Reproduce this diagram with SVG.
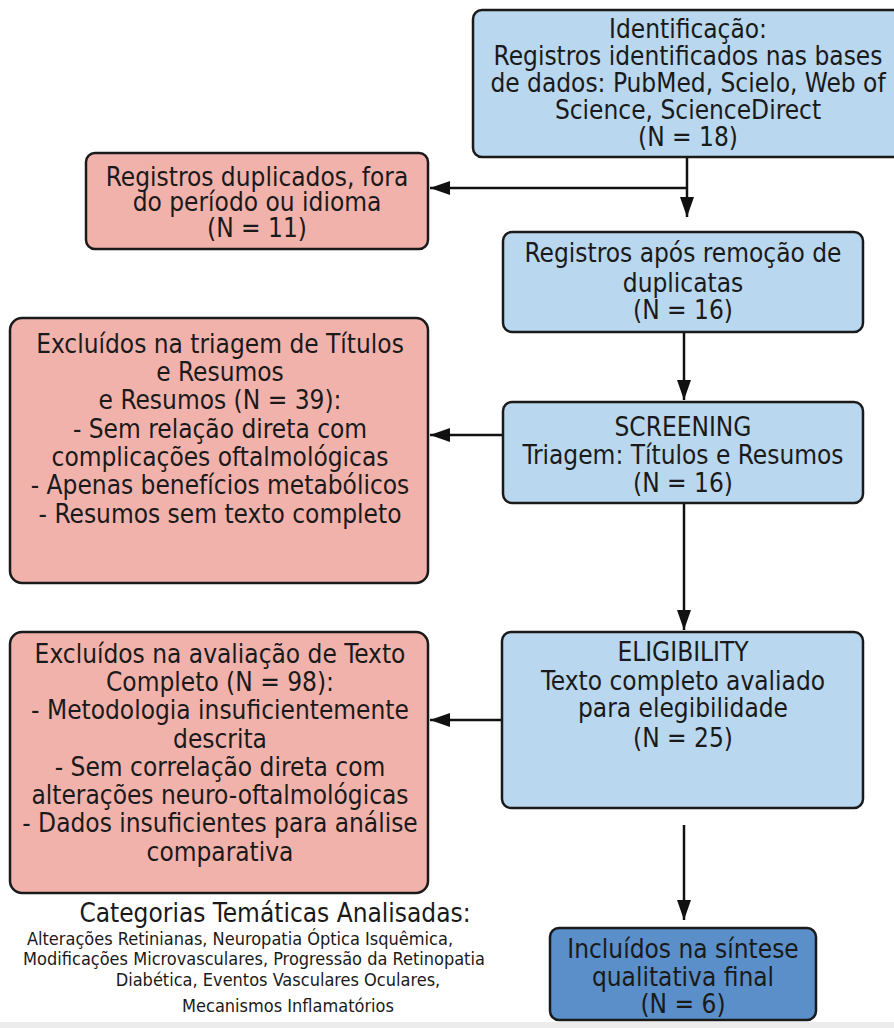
<svg xmlns="http://www.w3.org/2000/svg" width="894" height="1028" viewBox="0 0 894 1028">
<style>
text{font-family:'DejaVu Sans Condensed','DejaVu Sans',sans-serif;font-stretch:condensed;fill:#1a1a1a;text-anchor:middle;}
.t{font-size:26px;}
.s{font-size:18px;}
.blue{fill:#b9d7ee;stroke:#1a1a1a;stroke-width:2.5;}
.red{fill:#f2b2ac;stroke:#1a1a1a;stroke-width:2.5;}
.dark{fill:#5b8fc9;stroke:#1a1a1a;stroke-width:2.5;}
.c{fill:none;stroke:#111;stroke-width:2.5;}
</style>
<defs>
<marker id="ah2" viewBox="0 0 10 10" refX="10" refY="5" markerWidth="8" markerHeight="8" orient="auto" markerUnits="strokeWidth">
<path d="M0,1.5 L10,5 L0,8.5 Z" fill="#111"/>
</marker>
</defs>
<rect width="894" height="1028" fill="#ffffff"/>
<g id="connectors">
<path class="c" d="M687,157 L687,217" marker-end="url(#ah2)"/>
<path class="c" d="M687,188 L430,188" marker-end="url(#ah2)"/>
<path class="c" d="M684,332 L684,400" marker-end="url(#ah2)"/>
<path class="c" d="M503,435 L430,435" marker-end="url(#ah2)"/>
<path class="c" d="M684,503 L684,630" marker-end="url(#ah2)"/>
<path class="c" d="M502,720 L430,720" marker-end="url(#ah2)"/>
<path class="c" d="M684,825 L684,920" marker-end="url(#ah2)"/>
</g>
<g id="identificacao">
<rect class="blue" x="473" y="10" width="440" height="147" rx="9"/>
<text class="t" x="688" y="38">Identificação:</text>
<text class="t" x="688" y="65">Registros identificados nas bases</text>
<text class="t" x="688" y="92">de dados: PubMed, Scielo, Web of</text>
<text class="t" x="688" y="119">Science, ScienceDirect</text>
<text class="t" x="688" y="146">(N = 18)</text>
</g>
<g id="duplicados">
<rect class="red" x="86" y="153" width="342" height="96" rx="9"/>
<text class="t" x="257" y="186">Registros duplicados, fora</text>
<text class="t" x="257" y="211">do período ou idioma</text>
<text class="t" x="257" y="237">(N = 11)</text>
</g>
<g id="apos-remocao">
<rect class="blue" x="503" y="232" width="360" height="100" rx="9"/>
<text class="t" x="683" y="262">Registros após remoção de</text>
<text class="t" x="683" y="292">duplicatas</text>
<text class="t" x="683" y="319">(N = 16)</text>
</g>
<g id="excluidos-triagem">
<rect class="red" x="10" y="318" width="418" height="265" rx="12"/>
<text class="t" x="220" y="353">Excluídos na triagem de Títulos</text>
<text class="t" x="220" y="381">e Resumos</text>
<text class="t" x="220" y="409">e Resumos (N = 39):</text>
<text class="t" x="220" y="438">- Sem relação direta com</text>
<text class="t" x="220" y="466">complicações oftalmológicas</text>
<text class="t" x="220" y="494">- Apenas benefícios metabólicos</text>
<text class="t" x="220" y="523">- Resumos sem texto completo</text>
</g>
<g id="screening">
<rect class="blue" x="503" y="402" width="360" height="101" rx="9"/>
<text class="t" x="683" y="436">SCREENING</text>
<text class="t" x="683" y="464">Triagem: Títulos e Resumos</text>
<text class="t" x="683" y="492">(N = 16)</text>
</g>
<g id="eligibility">
<rect class="blue" x="502" y="632" width="361" height="176" rx="9"/>
<text class="t" x="683" y="661">ELIGIBILITY</text>
<text class="t" x="683" y="690">Texto completo avaliado</text>
<text class="t" x="683" y="717">para elegibilidade</text>
<text class="t" x="683" y="747">(N = 25)</text>
</g>
<g id="excluidos-texto">
<rect class="red" x="10" y="632" width="418" height="261" rx="12"/>
<text class="t" x="220" y="663">Excluídos na avaliação de Texto</text>
<text class="t" x="220" y="691">Completo (N = 98):</text>
<text class="t" x="220" y="719">- Metodologia insuficientemente</text>
<text class="t" x="220" y="748">descrita</text>
<text class="t" x="220" y="776">- Sem correlação direta com</text>
<text class="t" x="220" y="804">alterações neuro-oftalmológicas</text>
<text class="t" x="220" y="832">- Dados insuficientes para análise</text>
<text class="t" x="220" y="861">comparativa</text>
</g>
<g id="incluidos">
<rect class="dark" x="550" y="928" width="266" height="92" rx="9"/>
<text class="t" x="683" y="958">Incluídos na síntese</text>
<text class="t" x="683" y="986">qualitativa final</text>
<text class="t" x="683" y="1013">(N = 6)</text>
</g>
<g id="categorias">
<text class="t" x="275" y="922">Categorias Temáticas Analisadas:</text>
<text class="s" x="240" y="945">Alterações Retinianas, Neuropatia Óptica Isquêmica,</text>
<text class="s" x="254" y="965">Modificações Microvasculares, Progressão da Retinopatia</text>
<text class="s" x="278" y="986">Diabética, Eventos Vasculares Oculares,</text>
<text class="s" x="288" y="1012">Mecanismos Inflamatórios</text>
</g>
<rect x="0" y="1022" width="894" height="6" fill="#ececec"/>
</svg>
